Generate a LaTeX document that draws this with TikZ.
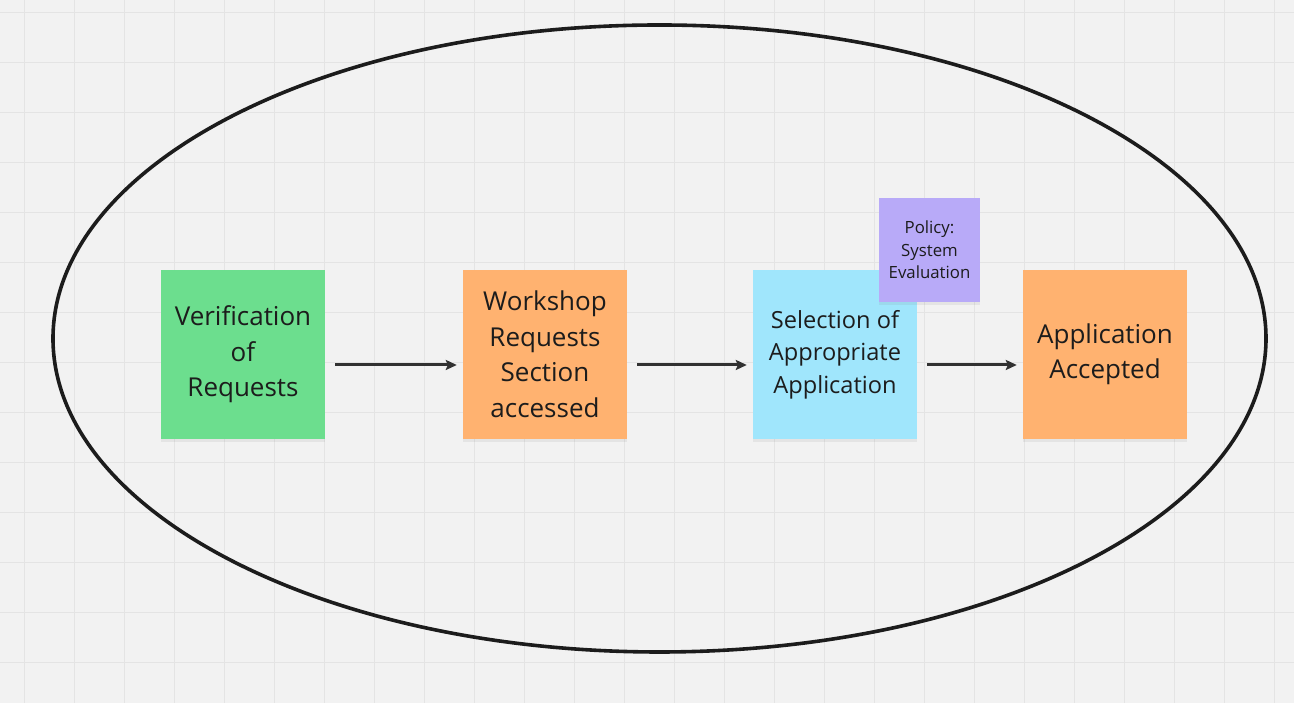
\documentclass[tikz,border=0pt]{standalone}
\usepackage{fontspec}
\setmainfont{Open Sans}
\usetikzlibrary{arrows.meta,shadows}
\definecolor{bg}{RGB}{242,242,242}
\definecolor{gridc}{RGB}{228,228,228}
\definecolor{stgreen}{RGB}{108,222,142}
\definecolor{storange}{RGB}{255,178,112}
\definecolor{stblue}{RGB}{160,230,252}
\definecolor{stpurple}{RGB}{184,170,248}
\definecolor{txt}{RGB}{28,28,28}
\definecolor{arr}{RGB}{50,50,50}
\tikzset{
  x=1pt,y=1pt,
  sticky/.style={minimum width=164pt,minimum height=169pt,inner sep=0pt,align=center,
    text=txt,font=\fontsize{26}{35.5}\selectfont,
    drop shadow={opacity=0.12,shadow xshift=0pt,shadow yshift=-3pt}},
  smallsticky/.style={minimum width=101pt,minimum height=104pt,inner sep=0pt,align=center,
    text=txt,font=\fontsize{16.8}{22.5}\selectfont,
    drop shadow={opacity=0.12,shadow xshift=0pt,shadow yshift=-3pt}},
  flow/.style={draw=arr,line width=3pt,-{Stealth[length=11pt,width=10pt,inset=2pt]}}
}
\begin{document}
\begin{tikzpicture}
\useasboundingbox (0,0) rectangle (1294,703);
\fill[bg] (0,0) rectangle (1294,703);
\foreach \gx in {24,74,...,1294} \draw[gridc,line width=1pt] (\gx,0) -- (\gx,703);
\foreach \gy in {13,63,...,703} \draw[gridc,line width=1pt] (0,703-\gy) -- (1294,703-\gy);
\draw[line width=3.6pt,color=txt] (659.5,703-338.5) ellipse [x radius=606.5,y radius=313.5];
\node[sticky,fill=stgreen] (a) at (243,703-354.5) {Verification\\of\\Requests};
\node[sticky,fill=storange] (b) at (545,703-354.5) {Workshop\\Requests\\Section\\accessed};
\node[sticky,fill=stblue,font=\fontsize{23.6}{32.5}\selectfont] (c) at (835,703-354.5) {Selection of\\Appropriate\\Application};
\node[smallsticky,fill=stpurple] (p) at (929.5,703-250) {Policy:\\System\\Evaluation};
\node[sticky,fill=storange] (d) at (1105,703-354.5) {Application\\Accepted};
\draw[flow] ([xshift=10pt]a.east |- 0,703-365) -- ([xshift=-6pt]b.west |- 0,703-365);
\draw[flow] ([xshift=10pt]b.east |- 0,703-365) -- ([xshift=-6pt]c.west |- 0,703-365);
\draw[flow] ([xshift=10pt]c.east |- 0,703-365) -- ([xshift=-6pt]d.west |- 0,703-365);
\end{tikzpicture}
\end{document}
